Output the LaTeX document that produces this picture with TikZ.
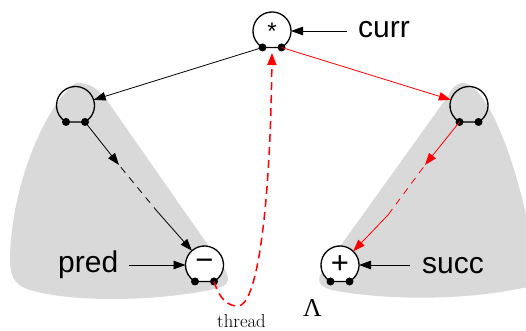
\documentclass[tikz,border=0pt]{standalone}
\usepackage{fontspec}
\newfontfamily\lsans{Liberation Sans}
\newfontfamily\lserif{Liberation Serif}
\usetikzlibrary{arrows.meta,calc}
\definecolor{regiongray}{RGB}{217,217,217}
\pgfdeclarelayer{bg}
\pgfsetlayers{bg,main}
\newcommand\drawring[2]{%
  \begin{pgfonlayer}{bg}
  \draw[ringline,fill=#2] (#1.-60) arc[start angle=-60,end angle=240,radius=19pt] -- cycle;
  \end{pgfonlayer}
  \fill (#1.-60) circle[radius=4pt];
  \fill (#1.-120) circle[radius=4pt];
}
\begin{document}
\begin{tikzpicture}[x=1pt,y=1pt,
  ring/.style={circle,inner sep=0pt,outer sep=0pt,minimum size=38pt,font=\lsans\fontsize{24}{28}\selectfont},
  bigsym/.style={font=\lsans\fontsize{31}{34}\selectfont},
  ringline/.style={line width=1.3pt},
  lbl/.style={font=\lsans\fontsize{30}{36}\selectfont,inner sep=0pt},
  arr/.style={line width=0.8pt,-{Triangle[length=12pt,width=8.5pt]}},
  midarr/.style={line width=0.8pt,-{Triangle[length=12pt,width=8.5pt]}},
  dashseg/.style={line width=0.8pt,dash pattern=on 7pt off 6pt,dash phase=10pt},
  threadline/.style={red,line width=1.5pt,dash pattern=on 8pt off 5pt,-{Triangle[length=12pt,width=9pt]}}]
\useasboundingbox (0,0) rectangle (526,-331);
\clip (0,0) rectangle (526,-331);
% shaded regions
\begin{pgfonlayer}{bg}
\fill[regiongray] (76,-83) .. controls (88,-82) and (97,-88) .. (106,-99) -- (224,-268)
  .. controls (233,-283) and (226,-287) .. (210,-290)
  .. controls (150,-302) and (70,-302) .. (30,-290)
  .. controls (12,-284) and (10,-275) .. (10,-255)
  .. controls (13,-175) and (50,-100) .. (76,-83) -- cycle;
\fill[regiongray] (464,-83) .. controls (490,-88) and (520,-170) .. (535,-260) -- (535,-285)
  .. controls (470,-302) and (380,-300) .. (332,-290)
  .. controls (316,-286) and (316,-278) .. (326,-266) -- (448,-96)
  .. controls (452,-88) and (456,-83) .. (464,-83) -- cycle;
\end{pgfonlayer}
% nodes
\node[ring] (c) at (272,-31) {*};
\node[ring] (l) at (75.5,-105.5) {};
\node[ring] (r) at (469,-105.5) {};
\node[ring,bigsym] (p) at (204.5,-265) {\raisebox{1pt}{−}};
\node[ring,bigsym] (s) at (340,-265) {+};
\drawring{c}{white}
\drawring{l}{none}
\drawring{r}{none}
\drawring{p}{white}
\drawring{s}{white}
\coordinate (cL) at (c.-120);
\coordinate (cR) at (c.-60);
\coordinate (lR) at (l.-60);
\coordinate (rL) at (r.-120);
\coordinate (pR) at (p.-60);
\coordinate (ctip) at ($(c.south)+(0,-3)$);
% labels
\node[lbl,anchor=base west] (cl) at (358,-38) {curr};
\node[lbl,anchor=base west] (pl) at (58,-272) {pred};
\node[lbl,anchor=base west] (sl) at (422,-273) {succ};
\node[font=\fontsize{18.7}{22}\selectfont,anchor=base,inner sep=0pt] (th) at (241.5,-327.5) {thread};
\node[font=\lserif\fontsize{25.7}{30}\selectfont,anchor=base,inner sep=0pt] (lam) at (312.5,-316) {Λ};
% connectors
\draw[arr] (cL) -- (l);
\draw[arr,red] (cR) -- (r);
\coordinate (lm1) at (119,-165);
\coordinate (lm2) at (156,-210);
\draw[midarr] (lR) -- (lm1);
\draw[dashseg] (lm1) -- (lm2);
\draw[arr] (lm2) -- (p);
\coordinate (rm1) at (425,-165);
\coordinate (rm2) at (388,-215);
\draw[midarr,red] (rL) -- (rm1);
\draw[dashseg,red] (rm1) -- (rm2);
\draw[arr,red] (rm2) -- (s);
\draw[arr] ($(c.east -| cl.west)+(-11,0)$) -- (c.east);
\draw[arr] ($(p.west -| pl.east)+(11,0)$) -- (p.west);
\draw[arr] ($(s.east -| sl.west)+(-12,0)$) -- (s.east);
\draw[threadline] (pR) .. controls (220,-300) and (228,-306) .. (238,-306)
  .. controls (256,-306) and (270,-220) .. (ctip);
\end{tikzpicture}
\end{document}
